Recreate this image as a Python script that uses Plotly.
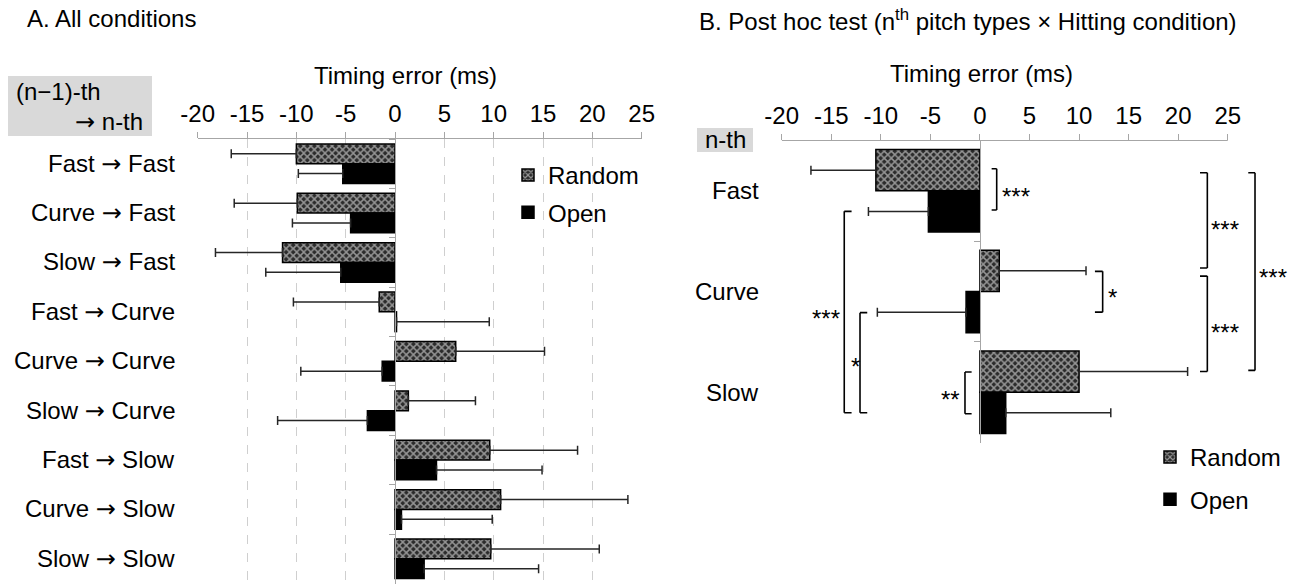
import plotly.graph_objects as go

W, H = 1298, 584
FONT = "Arial, 'Liberation Sans', sans-serif"
ARROW = '<span style="font-family:DejaVu Sans">→</span>'

# ---------------- data ----------------
cats_a = ["Fast → Fast", "Curve → Fast", "Slow → Fast",
          "Fast → Curve", "Curve → Curve", "Slow → Curve",
          "Fast → Slow", "Curve → Slow", "Slow → Slow"]
random_a = [-10.0, -9.9, -11.4, -1.6, 6.15, 1.35, 9.6, 10.7, 9.7]
random_a_err = [6.6, 6.4, 6.8, 8.7, 9.0, 6.8, 8.9, 12.9, 11.0]
open_a = [-5.3, -4.5, -5.5, 0.15, -1.3, -2.8, 4.2, 0.65, 2.95]
open_a_err = [4.5, 5.9, 7.6, 9.4, 8.25, 9.1, 10.7, 9.2, 11.6]

cats_b = ["Fast", "Curve", "Slow"]
random_b = [-10.5, 1.95, 10.0]
random_b_err = [6.55, 8.75, 10.95]
open_b = [-5.2, -1.4, 2.6]
open_b_err = [6.05, 8.95, 10.6]

tick_vals = [-20, -15, -10, -5, 0, 5, 10, 15, 20, 25]
tick_text = ["-20", "-15", "-10", "-5", "0", "5", "10", "15", "20", "25"]

# significance brackets in panel B: (x of vertical, x of arm ends, y-from, y-to, label, label x, label y, side)
brackets_b = [
    (1.69, 1.18, -0.22, 0.19, "***", 2.0, 0.0, "left"),
    (12.38, 11.6, 0.80, 1.205, "*", 12.75, 1.0, "left"),
    (-1.51, -0.84, 1.80, 2.215, "**", -1.8, 2.01, "right"),
    (-13.69, -12.95, 0.204, 2.205, "***", -13.93, 1.205, "right"),
    (-12.1, -11.37, 1.21, 2.205, "*", -12.6, 1.685, "center"),
    (22.94, 22.2, -0.18, 0.767, "***", 23.1, 0.32, "left"),
    (22.94, 22.2, 0.847, 1.794, "***", 23.1, 1.344, "left"),
    (27.75, 27.07, -0.18, 1.784, "***", 28.0, 0.80, "left"),
]


def err_plus(vals, errs):
    return [e if v >= 0 else 0 for v, e in zip(vals, errs)]


def err_minus(vals, errs):
    return [e if v < 0 else 0 for v, e in zip(vals, errs)]


def px(p):
    return p / W


def py(p):
    return 1 - p / H


pattern = dict(shape="x", fgcolor="white", bgcolor="#2b2b2b", size=5, solidity=0.5)
err_style = dict(type="data", symmetric=False, color="#262626", thickness=1.5, width=4.5)

fig = go.Figure()

# ---------------- panel A ----------------
fig.add_trace(go.Bar(
    y=cats_a, x=random_a, orientation="h", name="Random", width=0.4, offset=-0.4,
    marker=dict(color="#2b2b2b", pattern=pattern, line=dict(color="black", width=1.5)),
    error_x=dict(array=err_plus(random_a, random_a_err), arrayminus=err_minus(random_a, random_a_err), **err_style),
    xaxis="x", yaxis="y", legend="legend", legendgroup="ra"))
fig.add_trace(go.Bar(
    y=cats_a, x=open_a, orientation="h", name="Open", width=0.4, offset=0.0,
    marker=dict(color="black", line=dict(color="black", width=1.5)),
    error_x=dict(array=err_plus(open_a, open_a_err), arrayminus=err_minus(open_a, open_a_err), **err_style),
    xaxis="x", yaxis="y", legend="legend", legendgroup="oa"))

# ---------------- panel B ----------------
fig.add_trace(go.Bar(
    y=cats_b, x=random_b, orientation="h", name="Random", width=0.41, offset=-0.41,
    marker=dict(color="#2b2b2b", pattern=pattern, line=dict(color="black", width=1.5)),
    error_x=dict(array=err_plus(random_b, random_b_err), arrayminus=err_minus(random_b, random_b_err), **err_style),
    xaxis="x2", yaxis="y2", legend="legend2", legendgroup="rb"))
fig.add_trace(go.Bar(
    y=cats_b, x=open_b, orientation="h", name="Open", width=0.41, offset=0.0,
    marker=dict(color="black", line=dict(color="black", width=1.5)),
    error_x=dict(array=err_plus(open_b, open_b_err), arrayminus=err_minus(open_b, open_b_err), **err_style),
    xaxis="x2", yaxis="y2", legend="legend2", legendgroup="ob"))

axis_gray = "#a6a6a6"
tickfont = dict(family=FONT, size=24, color="black")
txt = dict(family=FONT, size=24, color="black")

annotations = []
shapes = []

# titles
annotations.append(dict(text="A. All conditions", x=px(25), y=py(19), xref="paper", yref="paper",
                        xanchor="left", yanchor="middle", showarrow=False, font=txt))
annotations.append(dict(text="B. Post hoc test (n<sup>th</sup> pitch types × Hitting condition)", x=px(697), y=py(20),
                        xref="paper", yref="paper", xanchor="left", yanchor="middle", showarrow=False, font=txt))
annotations.append(dict(text="Timing error (ms)", x=px(405), y=py(75), xref="paper", yref="paper",
                        xanchor="center", yanchor="middle", showarrow=False, font=txt))
annotations.append(dict(text="Timing error (ms)", x=px(981), y=py(73), xref="paper", yref="paper",
                        xanchor="center", yanchor="middle", showarrow=False, font=txt))

# gray header boxes
shapes.append(dict(type="rect", xref="paper", yref="paper", x0=px(8), x1=px(152), y0=py(76), y1=py(136),
                   fillcolor="#d9d9d9", line=dict(width=0), layer="below"))
annotations.append(dict(text="(n−1)-th", x=px(14), y=py(92), xref="paper", yref="paper", xanchor="left",
                        yanchor="middle", showarrow=False, font=txt))
annotations.append(dict(text=ARROW + " n-th", x=px(145), y=py(122), xref="paper", yref="paper", xanchor="right",
                        yanchor="middle", showarrow=False, font=txt))
shapes.append(dict(type="rect", xref="paper", yref="paper", x0=px(697), x1=px(753), y0=py(128), y1=py(152),
                   fillcolor="#d9d9d9", line=dict(width=0), layer="below"))
annotations.append(dict(text="n-th", x=px(725), y=py(140), xref="paper", yref="paper", xanchor="center",
                        yanchor="middle", showarrow=False, font=txt))

# category labels
for c in cats_a:
    annotations.append(dict(text=c.replace("→", ARROW), x=px(177), y=c, xref="paper", yref="y",
                            xanchor="right", yanchor="middle", showarrow=False, font=txt))
for c in cats_b:
    annotations.append(dict(text=c, x=px(761), y=c, xref="paper", yref="y2", xanchor="right", yanchor="middle",
                            showarrow=False, font=txt))

# panel B x-axis line (from -20 to 25)
shapes.append(dict(type="line", xref="x2", yref="y2 domain", x0=tick_vals[0], x1=tick_vals[-1], y0=1, y1=1,
                   line=dict(color=axis_gray, width=1.2)))

# significance brackets
for vx, ax_, y0, y1, lab, lx, ly, side in brackets_b:
    for (xa, ya, xb, yb) in [(ax_, y0, vx, y0), (vx, y0, vx, y1), (vx, y1, ax_, y1)]:
        shapes.append(dict(type="line", xref="x2", yref="y2", x0=xa, y0=ya, x1=xb, y1=yb,
                           line=dict(color="black", width=1.6)))
    annotations.append(dict(text=lab, x=lx, y=ly, xref="x2", yref="y2", xanchor=side, yanchor="middle",
                            yshift=-6, showarrow=False, font=txt))

fig.update_layout(
    width=W, height=H, margin=dict(l=0, r=0, t=0, b=0, autoexpand=False),
    paper_bgcolor="white", plot_bgcolor="rgba(0,0,0,0)",
    barmode="overlay", font=txt,
    xaxis=dict(domain=[px(197.7), px(641.7)], range=[-20, 25], side="top", anchor="y",
               tickvals=tick_vals, ticktext=tick_text, tickfont=tickfont, automargin=False,
               showline=True, linecolor=axis_gray, linewidth=1.2,
               ticks="outside", ticklen=6, tickcolor=axis_gray, tickwidth=1.2,
               showgrid=True, gridcolor="#cfcfcf", griddash="dash", gridwidth=1, zeroline=False),
    yaxis=dict(domain=[py(583.5), py(139)], type="category", autorange="reversed", automargin=False,
               anchor="free", position=px(395), showline=True, linecolor=axis_gray, linewidth=1.2,
               ticks="outside", tickson="boundaries", ticklen=6, tickcolor=axis_gray,
               showticklabels=False, showgrid=False, zeroline=False),
    xaxis2=dict(domain=[px(781.7), px(1267.4)], range=[-20, 29], side="top", anchor="y2",
                tickvals=tick_vals, ticktext=tick_text, tickfont=tickfont, automargin=False,
                showline=False, ticks="outside", ticklen=6, tickcolor=axis_gray, tickwidth=1.2,
                showgrid=False, zeroline=False),
    yaxis2=dict(domain=[py(442.5), py(140.5)], type="category", autorange="reversed", automargin=False,
                anchor="free", position=px(980), showline=True, linecolor=axis_gray, linewidth=1.2,
                ticks="outside", tickson="boundaries", ticklen=6, tickcolor=axis_gray,
                showticklabels=False, showgrid=False, zeroline=False),
    legend=dict(x=px(508), y=py(153), xanchor="left", yanchor="top", bgcolor="rgba(0,0,0,0)",
                font=txt, tracegroupgap=3),
    legend2=dict(x=px(1150), y=py(435), xanchor="left", yanchor="top", bgcolor="rgba(0,0,0,0)",
                 font=txt, tracegroupgap=8),
    annotations=annotations, shapes=shapes,
)

fig.write_html("out.html")
